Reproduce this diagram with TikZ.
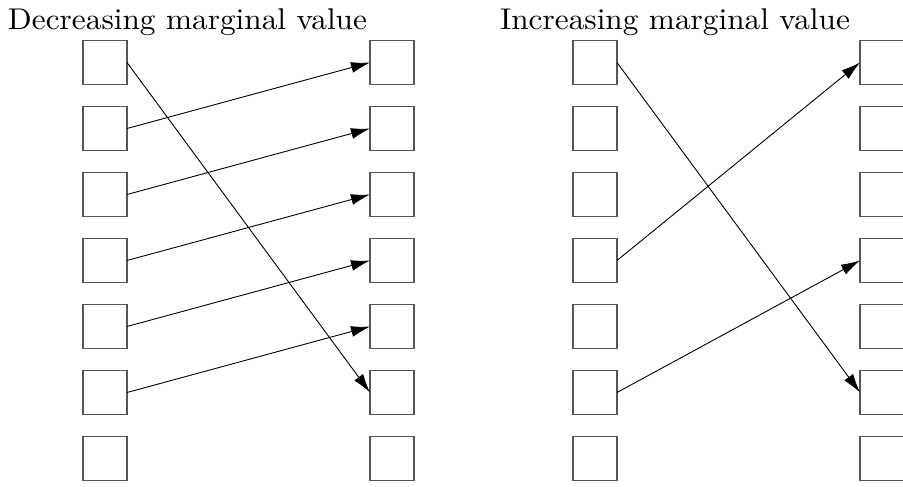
\documentclass[tikz,border=0pt]{standalone}
\usepackage{graphicx}
\usetikzlibrary{arrows.meta}
\definecolor{c555555}{RGB}{85,85,85}

\begin{document}
\begin{tikzpicture}[y=1pt, x=1pt, yscale=-1, inner sep=0pt, outer sep=0pt,
  cell/.style={draw=c555555, line width=1.2pt, minimum size=44pt},
  title/.style={anchor=base west},
  link/.style={draw=black, line width=0.9pt, -{Latex[length=19pt,width=11pt]}}]
\useasboundingbox (0,0) rectangle (903,487);
  % decreasing marginal value
  \node[title] (title-dec) at (8,30) {\scalebox{3.13}[3.0]{Decreasing marginal value}};
  \node[cell] (dl1) at (105,62.5) {};
  \node[cell] (dl2) at (105,128.5) {};
  \node[cell] (dl3) at (105,194.5) {};
  \node[cell] (dl4) at (105,260.5) {};
  \node[cell] (dl5) at (105,326.5) {};
  \node[cell] (dl6) at (105,392.5) {};
  \node[cell] (dl7) at (105,458.5) {};
  \node[cell] (dr1) at (392,62.5) {};
  \node[cell] (dr2) at (392,128.5) {};
  \node[cell] (dr3) at (392,194.5) {};
  \node[cell] (dr4) at (392,260.5) {};
  \node[cell] (dr5) at (392,326.5) {};
  \node[cell] (dr6) at (392,392.5) {};
  \node[cell] (dr7) at (392,458.5) {};
  \path[link] (dl1.east) -- (dr6.west);
  \path[link] (dl2.east) -- (dr1.west);
  \path[link] (dl3.east) -- (dr2.west);
  \path[link] (dl4.east) -- (dr3.west);
  \path[link] (dl5.east) -- (dr4.west);
  \path[link] (dl6.east) -- (dr5.west);
  % increasing marginal value
  \node[title] (title-inc) at (500,30) {\scalebox{3.13}[3.0]{Increasing marginal value}};
  \node[cell] (il1) at (595,62.5) {};
  \node[cell] (il2) at (595,128.5) {};
  \node[cell] (il3) at (595,194.5) {};
  \node[cell] (il4) at (595,260.5) {};
  \node[cell] (il5) at (595,326.5) {};
  \node[cell] (il6) at (595,392.5) {};
  \node[cell] (il7) at (595,458.5) {};
  \node[cell] (ir1) at (882,62.5) {};
  \node[cell] (ir2) at (882,128.5) {};
  \node[cell] (ir3) at (882,194.5) {};
  \node[cell] (ir4) at (882,260.5) {};
  \node[cell] (ir5) at (882,326.5) {};
  \node[cell] (ir6) at (882,392.5) {};
  \node[cell] (ir7) at (882,458.5) {};
  \path[link] (il1.east) -- (ir6.west);
  \path[link] (il4.east) -- (ir1.west);
  \path[link] (il6.east) -- (ir4.west);
\end{tikzpicture}
\end{document}
